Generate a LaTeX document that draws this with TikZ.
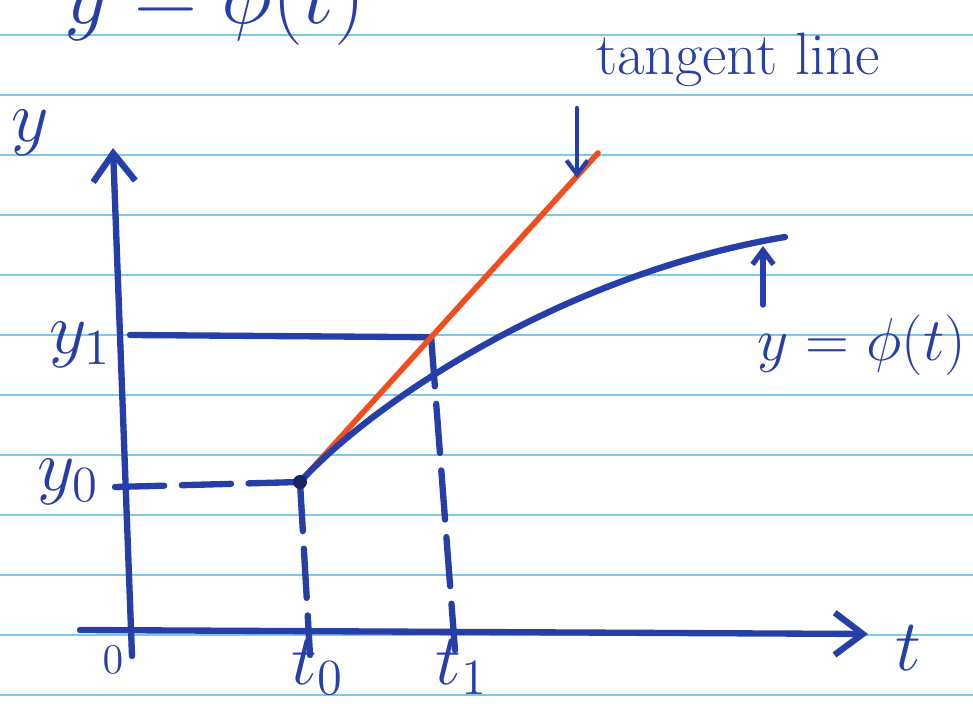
\documentclass[tikz,border=0pt]{standalone}
\usepackage{tikz}
\usetikzlibrary{arrows.meta, calc}
\definecolor{ink}{RGB}{38,62,168}
\definecolor{tanred}{RGB}{238,78,32}
\definecolor{paperline}{RGB}{125,200,235}
\begin{document}
\begin{tikzpicture}[x= 0.01cm, y= -0.01cm,
	pen/.style={draw= ink, line width= 1.8pt, line cap= round},
	guide/.style={pen, dash pattern= on 14pt off 5pt},
	lbl/.style={text= ink, font= \fontsize{20}{24}\selectfont},
	axtip/.style={-{Straight Barb[length= 8pt, width= 12pt, line width= 1.8pt]}},
	smalltip/.style={-{Straight Barb[length= 4pt, width= 6pt]}}]
\useasboundingbox (0, 0) rectangle (973, 704);
\clip (0, 0) rectangle (973, 704);
% 罫線
	\foreach \yy in {35, 95, ..., 695}
		\draw[paperline, line width= 0.6pt](0, \yy)-- (973, \yy);
% 上端の式 (切れている)
	\node[lbl, font= \fontsize{26}{30}\selectfont, anchor= base] (top) at (215, 24) {$y = \phi(t)$};
% 座標
	\coordinate (O) at (130, 632);
	\coordinate (tend) at (868, 634);
	\coordinate (ybot) at (132, 656);
	\coordinate (yend) at (113, 148);
	\coordinate (P0) at (300, 482); % (t0, y0)
	\coordinate (T) at (598, 153); % 接線の端
	\coordinate (P1) at ($(P0)!0.44!(T)$); % (t1, y1)
	\coordinate (C) at (785, 237); % 曲線の端
% 軸
	\draw[pen, axtip](80, 630)-- (tend); % t軸
	\draw[pen, axtip](ybot)-- (yend); % y軸
% 補助線
	\draw[guide](115, 487)-- (P0); % y0
	\draw[guide](P0)-- (310, 655); % t0
	\draw[pen](130, 335)-- (P1); % y1
	\draw[guide](P1)-- (455, 650); % t1
% 接線と解曲線
	\draw[tanred, line width= 1.6pt, line cap= round](P0)-- (T);
	\draw[pen](P0) .. controls (370, 405) and (560, 275) .. (C);
	\fill[ink!60!black](P0) circle (7);
% ラベル
	\node[lbl] (ylab) at (30, 133) {$y$};
	\node[lbl] (tlab) at (908, 648) {$t$};
	\node[lbl, font= \fontsize{12}{14}\selectfont] (zero) at (113, 660) {$0$};
	\node[lbl, anchor= base] (t0lab) at (318, 684) {$t_0$};
	\node[lbl, anchor= base] (t1lab) at (462, 684) {$t_1$};
	\node[lbl] (y1lab) at (80, 345) {$y_1$};
	\node[lbl] (y0lab) at (68, 482) {$y_0$};
	\node[lbl, font= \fontsize{17}{20}\selectfont] (tanlab) at (738, 60) {tangent line};
	\node[lbl, font= \fontsize{19}{22}\selectfont] (philab) at (862, 345) {$y = \phi(t)$};
% 矢印
	\coordinate (a1) at (577, 108);
	\coordinate (a2) at (577, 178);
	\draw[pen, line width= 1.2pt, smalltip](a1)-- (a2);
	\coordinate (b1) at (763, 305);
	\coordinate (b2) at (763, 246);
	\draw[pen, line width= 1.5pt, smalltip](b1)-- (b2);
\end{tikzpicture}
\end{document}
